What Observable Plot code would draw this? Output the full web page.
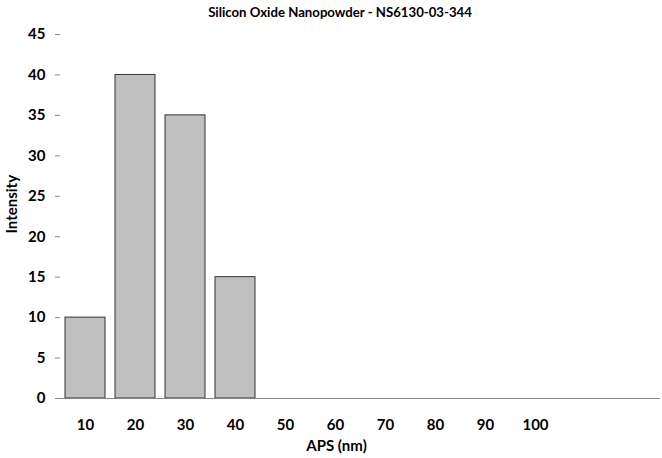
<!DOCTYPE html>
<html>
<head>
<meta charset="utf-8">
<script src="https://cdn.jsdelivr.net/npm/d3@7"></script>
<script src="https://cdn.jsdelivr.net/npm/@observablehq/plot@0.6"></script>
<style>
  html, body { margin: 0; padding: 0; background: #fff; }
  #title { width: 662px; height: 24px; line-height: 24px; text-align: center; box-sizing: border-box; padding-left: 18px;
           font-family: Lato, sans-serif; font-weight: bold; font-size: 13.2px; color: #000; }
  svg { display: block; }
</style>
</head>
<body>
<div id="title">Silicon Oxide Nanopowder - NS6130-03-344</div>
<div id="chart"></div>
<script>
const categories = ["10", "20", "30", "40", "50", "60", "70", "80", "90", "100"];
const intensity = [10, 40, 35, 15, 0, 0, 0, 0, 0, 0];
const padSlots = ["pad1", "pad2"];
const yTicks = [0, 5, 10, 15, 20, 25, 30, 35, 40, 45];

const data = categories.map((c, i) => ({aps: c, value: intensity[i]}));
const domain = [...categories, ...padSlots];

const chart = Plot.plot({
  width: 662,
  height: 434,
  marginTop: 10,
  marginBottom: 60,
  marginLeft: 60,
  marginRight: 2,
  style: {fontFamily: "Lato, sans-serif", fontWeight: "bold", fontSize: "15px", color: "#000", background: "#fff"},
  x: {domain, paddingInner: 0.2, paddingOuter: 0.1, label: null},
  y: {domain: [0, 45], ticks: yTicks, label: null},
  marks: [
    Plot.barY(data.filter(d => d.value > 0), {x: "aps", y: "value", fill: "#c0c0c0", stroke: "#333333", strokeWidth: 1}),
    Plot.axisY({ticks: yTicks, tickSize: 5, tickPadding: 10, stroke: "#868686", strokeOpacity: 1, label: null, fill: "#000"}),
    Plot.axisX({tickSize: 0, tickPadding: 21, label: null, tickFormat: d => padSlots.includes(d) ? "" : d, fill: "#000"}),
    Plot.ruleX([0], {frameAnchor: "left", stroke: "#868686"}),
    Plot.ruleY([0], {stroke: "#868686"}),
    Plot.text(["APS (nm)"], {frameAnchor: "bottom", dx: -24, dy: 52, fill: "#000", fontWeight: "bold", fontSize: 15}),
    Plot.text(["Intensity"], {frameAnchor: "left", dx: -48, dy: 17, rotate: -90, fill: "#000", fontWeight: "bold", fontSize: 15})
  ]
});
document.getElementById("chart").appendChild(chart);
</script>
</body>
</html>
